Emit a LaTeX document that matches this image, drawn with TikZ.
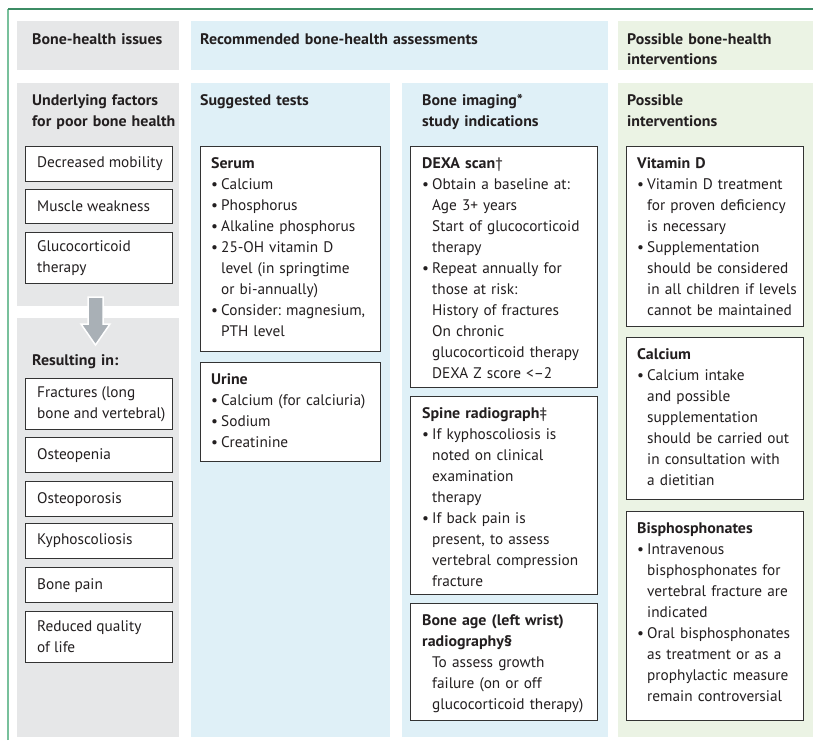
\documentclass[tikz,border=0pt]{standalone}
\usepackage{fontspec}
\setmainfont{PT Sans}[BoldFeatures={FakeStretch=1.04}]
\usepackage{tikz}
\usetikzlibrary{positioning}
\frenchspacing

\definecolor{issuegrey}{HTML}{E6E7E8}
\definecolor{assessblue}{HTML}{DFF0F7}
\definecolor{intervgreen}{HTML}{EBF3E4}
\definecolor{arrowgrey}{HTML}{A9B0B6}
\definecolor{boxline}{HTML}{333333}
\definecolor{ink}{HTML}{231F20}
\definecolor{frametop}{HTML}{3C8C64}
\definecolor{frameleft}{HTML}{78C09C}

\newcommand{\bodyfont}{\fontsize{15.3}{21}\selectfont}
\newcommand{\bul}{\makebox[10pt][l]{\textbullet}}
\newcommand{\ind}{\hspace*{10pt}}

\begin{document}
\begin{tikzpicture}[x=1pt, y=-1pt,
    panel/.style={fill=#1, draw=none},
    fbox/.style={draw=boxline, line width=1.2pt, fill=white, anchor=north west, inner sep=0pt},
    txt/.style={anchor=north west, align=left, inner sep=0pt, text=ink, font=\bodyfont},
    toptxt/.style={txt, text width=175pt, execute at begin node={\rule{0pt}{14.7pt}}},
    head/.style={toptxt, font=\bodyfont\bfseries}]
    \useasboundingbox (0,0) rectangle (813,740);

    % Rahmen
    \draw[frameleft, line width=1.2pt] (8,740) -- (8,9);
    \draw[frametop, line width=1.2pt] (8,9) -- (813,9);

    % Panels
    \fill[panel=issuegrey] (17,21) rectangle (179,70);
    \fill[panel=assessblue] (191,21) rectangle (608,70);
    \fill[panel=intervgreen] (618,21) rectangle (813,70);
    \fill[panel=issuegrey] (17,83) rectangle (179,306);
    \fill[panel=issuegrey] (17,318) rectangle (179,737);
    \fill[panel=assessblue] (191,83) rectangle (390,737);
    \fill[panel=assessblue] (402,83) rectangle (608,737);
    \fill[panel=intervgreen] (618,83) rectangle (813,737);

    % Headings
    \node[head] (hIssues) at (32,29.3) {Bone-health issues};
    \node[head, text width=300pt] (hAssess) at (200,29.3) {Recommended bone-health assessments};
    \node[head, font=\fontsize{15.3}{20}\selectfont\bfseries] (hInterv) at (627,29.3) {Possible bone-health\\interventions};
    \node[head] (hFactors) at (32,90.3) {Underlying factors\\for poor bone health};
    \node[head] (hTests) at (200,90.3) {Suggested tests};
    \node[head] (hImaging) at (422,90.3) {Bone imaging*\\study indications};
    \node[head] (hPossible) at (627,90.3) {Possible\\interventions};
    \node[head] (hResult) at (32,350.3) {Resulting in:};

    % Underlying factors
    \node[fbox, minimum width=147, minimum height=35] (mobility) at (25,146) {};
    \node[txt, right=12pt of mobility.west] (mobilitytxt) {Decreased mobility};
    \node[fbox, minimum width=147, minimum height=34] (weakness) at (25,189) {};
    \node[txt, right=12pt of weakness.west] (weaknesstxt) {Muscle weakness};
    \node[fbox, minimum width=147, minimum height=51] (steroid) at (25,232) {};
    \node[txt, right=12pt of steroid.west] (steroidtxt) {Glucocorticoid\\therapy};

    % Arrow down to the results
    \draw[draw=white, line width=1.5pt, fill=arrowgrey]
        (88,297) -- (103,297) -- (103,324) -- (110,324) -- (95.5,345)
        -- (81,324) -- (88,324) -- cycle;

    % Resulting in
    \node[fbox, minimum width=147, minimum height=51] (fractures) at (25,378) {};
    \node[txt, right=12pt of fractures.west] (fracturestxt) {Fractures (long\\bone and vertebral)};
    \node[fbox, minimum width=147, minimum height=35] (penia) at (25,437) {};
    \node[txt, right=12pt of penia.west] (peniatxt) {Osteopenia};
    \node[fbox, minimum width=147, minimum height=35] (porosis) at (25,481) {};
    \node[txt, right=12pt of porosis.west] (porosistxt) {Osteoporosis};
    \node[fbox, minimum width=147, minimum height=35] (kypho) at (25,523) {};
    \node[txt, right=12pt of kypho.west] (kyphotxt) {Kyphoscoliosis};
    \node[fbox, minimum width=147, minimum height=35] (pain) at (25,567) {};
    \node[txt, right=12pt of pain.west] (paintxt) {Bone pain};
    \node[fbox, minimum width=147, minimum height=51] (quality) at (25,611) {};
    \node[txt, right=12pt of quality.west] (qualitytxt) {Reduced quality\\of life};

    % Suggested tests
    \node[fbox, minimum width=180, minimum height=205] (serum) at (200,146) {};
    \node[toptxt, below right=7.3pt and 11pt of serum.north west] (serumtxt) {\textbf{Serum}\\
        \bul Calcium\\
        \bul Phosphorus\\
        \bul Alkaline phosphorus\\
        \bul 25-OH vitamin D\\
        \ind level (in springtime\\
        \ind or bi-annually)\\
        \bul Consider: magnesium,\\
        \ind PTH level};
    \node[fbox, minimum width=180, minimum height=99] (urine) at (200,362) {};
    \node[toptxt, below right=7.3pt and 11pt of urine.north west] (urinetxt) {\textbf{Urine}\\
        \bul Calcium (for calciuria)\\
        \bul Sodium\\
        \bul Creatinine};

    % Bone imaging
    \node[fbox, minimum width=187, minimum height=241] (dexa) at (410,146) {};
    \node[toptxt, below right=7.3pt and 12pt of dexa.north west] (dexatxt) {\textbf{DEXA scan}†\\
        \bul Obtain a baseline at:\\
        \ind Age 3+ years\\
        \ind Start of glucocorticoid\\
        \ind therapy\\
        \bul Repeat annually for\\
        \ind those at risk:\\
        \ind History of fractures\\
        \ind On chronic\\
        \ind glucocorticoid therapy\\
        \ind DEXA Z score <–2};
    \node[fbox, minimum width=187, minimum height=198] (spine) at (410,396) {};
    \node[toptxt, below right=7.3pt and 12pt of spine.north west] (spinetxt) {\textbf{Spine radiograph}‡\\
        \bul If kyphoscoliosis is\\
        \ind noted on clinical\\
        \ind examination\\
        \ind therapy\\
        \bul If back pain is\\
        \ind present, to assess\\
        \ind vertebral compression\\
        \ind fracture};
    \node[fbox, minimum width=187, minimum height=117] (boneage) at (410,603) {};
    \node[toptxt, below right=7.3pt and 12pt of boneage.north west] (boneagetxt) {\textbf{Bone age (left wrist)}\\
        \textbf{radiography§}\\
        \ind To assess growth\\
        \ind failure (on or off\\
        \ind glucocorticoid therapy)};

    % Interventions
    \node[fbox, minimum width=177, minimum height=180] (vitd) at (626,146) {};
    \node[toptxt, below right=7.3pt and 11pt of vitd.north west] (vitdtxt) {\textbf{Vitamin D}\\
        \bul Vitamin D treatment\\
        \ind for proven deficiency\\
        \ind is necessary\\
        \bul Supplementation\\
        \ind should be considered\\
        \ind in all children if levels\\
        \ind cannot be maintained};
    \node[fbox, minimum width=177, minimum height=162] (calcium) at (626,337) {};
    \node[toptxt, below right=7.3pt and 11pt of calcium.north west] (calciumtxt) {\textbf{Calcium}\\
        \bul Calcium intake\\
        \ind and possible\\
        \ind supplementation\\
        \ind should be carried out\\
        \ind in consultation with\\
        \ind a dietitian};
    \node[fbox, minimum width=177, minimum height=209] (bisphos) at (626,511) {};
    \node[toptxt, below right=7.3pt and 11pt of bisphos.north west] (bisphostxt) {\textbf{Bisphosphonates}\\
        \bul Intravenous\\
        \ind bisphosphonates for\\
        \ind vertebral fracture are\\
        \ind indicated\\
        \bul Oral bisphosphonates\\
        \ind as treatment or as a\\
        \ind prophylactic measure\\
        \ind remain controversial};
\end{tikzpicture}
\end{document}
